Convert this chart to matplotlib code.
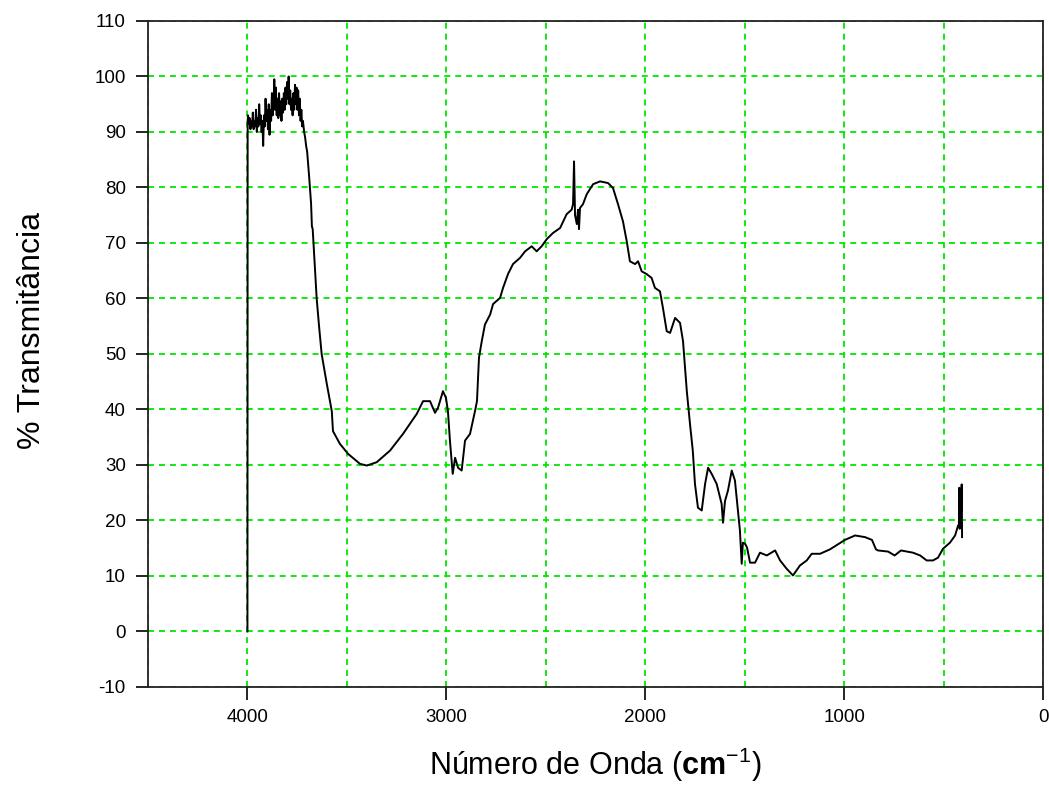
import matplotlib
matplotlib.use("Agg")
import matplotlib.pyplot as plt
from matplotlib.ticker import FixedLocator

plt.rcParams['font.family'] = ['Liberation Sans', 'DejaVu Sans']
plt.rcParams['axes.unicode_minus'] = False
plt.rcParams['lines.scale_dashes'] = False
plt.rcParams['mathtext.fontset'] = 'custom'
plt.rcParams['mathtext.rm'] = 'Liberation Sans'
plt.rcParams['mathtext.bf'] = 'Liberation Sans:bold'

# wavenumber (cm-1) and % transmittance
wavenumber = [
    4000, 3999, 3997, 3993, 3989, 3985, 3981, 3977, 3973, 3969, 3965, 3961, 3957, 3953,
    3949, 3945, 3941, 3937, 3933, 3929, 3925, 3921, 3917, 3913, 3909, 3905, 3901, 3897,
    3893, 3889, 3885, 3881, 3877, 3873, 3869, 3865, 3861, 3857, 3853, 3849, 3845, 3841,
    3837, 3833, 3829, 3825, 3821, 3817, 3813, 3809, 3805, 3801, 3797, 3793, 3789, 3785,
    3781, 3777, 3773, 3769, 3765, 3761, 3757, 3753, 3749, 3745, 3741, 3737, 3733, 3729,
    3725, 3721, 3715, 3710, 3705, 3700,
    3690, 3680, 3676, 3672, 3665, 3652, 3640, 3627, 3601, 3576, 3570, 3535, 3494, 3434, 3400,
    3350, 3283, 3218, 3149, 3117, 3082, 3057, 3042, 3017, 3002, 2992, 2982, 2968, 2956,
    2941, 2923, 2906, 2881, 2856, 2846, 2836, 2822, 2806, 2780, 2765, 2730, 2715, 2690,
    2665, 2630, 2604, 2571, 2546, 2521, 2495, 2464, 2428, 2395, 2370, 2363, 2358, 2353,
    2344, 2338, 2333, 2328, 2313, 2294, 2262, 2227, 2187, 2162, 2137, 2112, 2093, 2077,
    2051, 2036, 2018, 1993, 1968, 1951, 1926, 1911, 1892, 1875, 1850, 1825, 1810, 1791,
    1775, 1761, 1750, 1735, 1716, 1699, 1684, 1666, 1641, 1616, 1609, 1599, 1584, 1565,
    1549, 1534, 1524, 1515, 1509, 1498, 1488, 1473, 1448, 1423, 1389, 1347, 1322, 1289,
    1257, 1222, 1188, 1163, 1121, 1071, 996, 945, 895, 860, 840, 830, 779, 746, 714, 654,
    618, 585, 553, 528, 503, 468, 442, 427, 423, 421, 419, 415, 411, 409, 407,
]
transmittance = [
    0, 92, 93, 91.5, 92.5, 90.5, 92, 91, 93.5, 90.5, 92, 91, 94, 90,
    92.5, 91, 95, 91.5, 93, 90, 92, 87.5, 93, 91, 96, 92, 94, 90.5,
    95, 89.5, 94, 92, 97, 93, 95, 99.5, 94, 98, 93, 96, 92.5, 97,
    93, 95.5, 92, 96, 93.5, 97, 94, 98, 95, 99, 96, 100, 95, 97.5,
    94, 96, 93, 97, 94, 98.5, 95, 98, 94, 97.5, 93, 96, 92, 94,
    91, 92, 90, 89, 87.5, 86.5,
    82, 77, 73, 72.5, 68, 60, 55, 50, 44.6, 39.7, 36.1, 33.8, 32, 30.2, 29.9,
    30.5, 32.6, 35.6, 39.2, 41.5, 41.5, 39.4, 40.3, 43.3, 42.1, 39.7, 34.4, 28.4, 31.3,
    29.5, 29, 34.4, 35.6, 39.7, 41.5, 49.3, 52.3, 55.3, 57.1, 59, 60.1, 61.9, 64.4,
    66.2, 67.3, 68.5, 69.4, 68.5, 69.4, 70.7, 71.8, 72.7, 75.2, 76, 77, 84.7, 75,
    73.4, 76, 72.5, 76.3, 77, 78.8, 80.6, 81.1, 80.8, 79.9, 77, 73.9, 70.3, 66.7,
    66.2, 66.7, 64.9, 64.4, 63.7, 61.9, 61.3, 58.3, 54.1, 53.8, 56.5, 55.6, 52.3, 43.3,
    37.4, 32.6, 26.6, 22.3, 21.8, 26.6, 29.5, 28.4, 26.6, 23, 19.6, 23.5, 25.4, 29,
    27.2, 21.8, 18.2, 12.2, 16, 15.8, 15.1, 12.4, 12.4, 14.2, 13.7, 14.6, 12.8, 11.3,
    10.1, 11.9, 12.8, 14, 14, 14.8, 16.5, 17.3, 17, 16.5, 14.8, 14.6, 14.4, 13.7, 14.6, 14.2,
    13.7, 12.8, 12.8, 13.3, 14.9, 16, 17.3, 19.1, 19, 25.9, 18.5, 20, 22, 26.5, 17,
]

x_major = [4000, 3000, 2000, 1000, 0]
x_minor = [4500, 3500, 2500, 1500, 500]
y_ticks = list(range(-10, 111, 10))

fig = plt.figure(figsize=(10.49, 7.89), dpi=100)
ax = fig.add_axes([0.1411, 0.1293, 0.8532, 0.8441])

ax.plot(wavenumber, transmittance, color='black', lw=1.4, zorder=3)

ax.set_xlim(4500, 0)
ax.set_ylim(-10, 110)
ax.xaxis.set_major_locator(FixedLocator(x_major))
ax.xaxis.set_minor_locator(FixedLocator(x_minor))
ax.yaxis.set_major_locator(FixedLocator(y_ticks))

ax.set_axisbelow(True)
ax.grid(True, which='both', color='#00e600', lw=1.3, linestyle=(0, (4.3, 3.6)))

ax.tick_params(axis='both', which='major', direction='out', length=9, width=1.2,
               labelsize=13.5, colors='black', pad=7)
ax.tick_params(axis='x', which='minor', direction='out', length=0, width=1.2)
for s in ax.spines.values():
    s.set_linewidth(1.3)
    s.set_color('#222222')

ax.set_xlabel("Número de Onda (" + r"$\mathbf{cm}^{-1}$" + ")", fontsize=22, labelpad=14)
ax.set_ylabel("% Transmitância", fontsize=23)
ax.yaxis.set_label_coords(-0.113, 0.536)

fig.savefig("out.png", dpi=100)
